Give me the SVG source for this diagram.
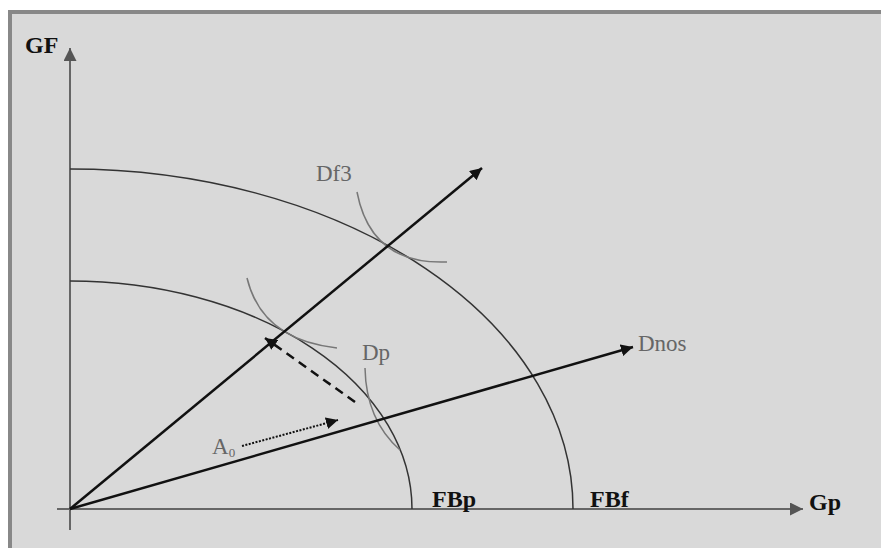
<svg xmlns="http://www.w3.org/2000/svg" width="881" height="548" viewBox="0 0 881 548">
<style>
.axis{stroke:#666;stroke-width:2;fill:none}
.ray{stroke:#111;stroke-width:2.5;fill:none}
.frontier{stroke:#333;stroke-width:1.5;fill:none}
.curve{stroke:#777;stroke-width:1.5;fill:none}
.bold{font-family:"Liberation Serif",serif;font-weight:bold;font-size:24px;fill:#111}
.lbl{font-family:"Liberation Serif",serif;font-size:23px;fill:#666}
</style>
<defs>
<marker id="ah" viewBox="0 0 10 10" refX="10" refY="5" markerWidth="12" markerHeight="12" markerUnits="userSpaceOnUse" orient="auto"><path d="M0,0L10,5L0,10z" fill="#111"/></marker>
<marker id="ahg" viewBox="0 0 10 10" refX="10" refY="5" markerWidth="13" markerHeight="13" markerUnits="userSpaceOnUse" orient="auto"><path d="M0,0L10,5L0,10z" fill="#555"/></marker>
</defs>
<rect x="0" y="0" width="881" height="548" fill="#fff"/>
<rect id="frame" x="10" y="12" width="900" height="560" fill="#d9d9d9" stroke="#888" stroke-width="4"/>
<g id="axes">
<line class="axis" x1="70" y1="530" x2="70" y2="48" marker-end="url(#ahg)"/>
<line class="axis" x1="57" y1="509" x2="803" y2="509" marker-end="url(#ahg)"/>
</g>
<g id="frontier-FBp"><path class="frontier" d="M70,281 A342,228 0 0 1 412,509"/></g>
<g id="frontier-FBf"><path class="frontier" d="M70,169 A503,340 0 0 1 573,509"/></g>
<g id="curve-Df3"><path class="curve" d="M357,192 Q371,265 447,262"/></g>
<g id="curve-inner"><path class="curve" d="M247,278 Q262,340 337,348"/></g>
<g id="curve-Dp"><path class="curve" d="M365,368 Q366,420 400,450"/></g>
<g id="connectors">
<line class="ray" x1="70" y1="509" x2="482" y2="168" marker-end="url(#ah)"/>
<line class="ray" x1="70" y1="509" x2="633" y2="347" marker-end="url(#ah)"/>
<line stroke="#111" stroke-width="2.5" stroke-dasharray="9,6" x1="355" y1="402" x2="265" y2="338" marker-end="url(#ah)"/>
<line stroke="#111" stroke-width="2" stroke-dasharray="2,1.5" x1="242" y1="446" x2="338" y2="420" marker-end="url(#ah)"/>
</g>
<g id="labels">
<text class="bold" x="25" y="53">GF</text>
<text class="bold" x="809" y="510">Gp</text>
<text class="bold" x="432" y="507">FBp</text>
<text class="bold" x="590" y="507">FBf</text>
<text class="lbl" x="316" y="181">Df3</text>
<text class="lbl" x="362" y="360">Dp</text>
<text class="lbl" x="638" y="351">Dnos</text>
<text class="lbl" x="212" y="454">A<tspan font-size="13" dy="3">0</tspan></text>
</g>
</svg>
